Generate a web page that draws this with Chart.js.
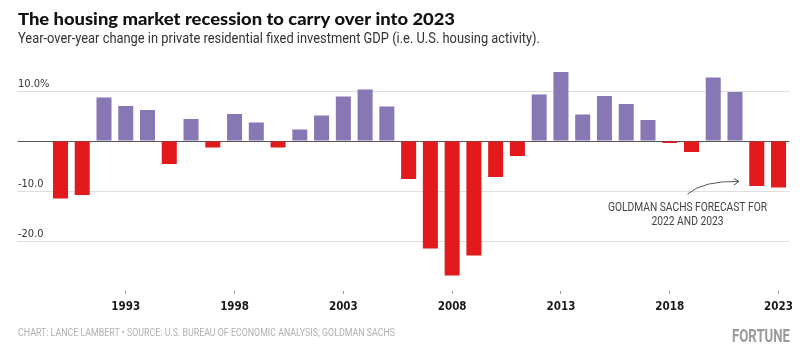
<!DOCTYPE html>
<html>
<head>
<meta charset="utf-8">
<script src="https://cdn.jsdelivr.net/npm/chart.js@4.4.1/dist/chart.umd.min.js"></script>
<style>
  html, body { margin: 0; padding: 0; background: #fff; }
  #chart { display: block; }
</style>
</head>
<body>
<canvas id="chart" width="800" height="350"></canvas>
<script>
// Year-over-year change in private residential fixed investment (%)
const years = ['1990', '1991', '1992', '1993', '1994', '1995', '1996', '1997', '1998', '1999',
               '2000', '2001', '2002', '2003', '2004', '2005', '2006', '2007', '2008', '2009',
               '2010', '2011', '2012', '2013', '2014', '2015', '2016', '2017', '2018', '2019',
               '2020', '2021', '2022', '2023'];
const changes = [-11.5, -10.8, 8.7, 7.0, 6.2, -4.6, 4.4, -1.3, 5.4, 3.7,
                 -1.3, 2.3, 5.1, 8.9, 10.3, 6.9, -7.6, -21.5, -26.9, -22.9,
                 -7.2, -3.0, 9.3, 13.8, 5.3, 9.0, 7.4, 4.2, -0.4, -2.2,
                 12.7, 9.8, -9.0, -9.3];
const xTickYears = ['1993', '1998', '2003', '2008', '2013', '2018', '2023'];
const yTicks = [-20, -10, 0, 10];
const yTickLabels = ['-20.0', '-10.0', '', '10.0%'];

const PURPLE = '#8777b4';
const RED = '#e21a1c';
const NARROW = "'DejaVu Sans Condensed', sans-serif";

// draw text squeezed horizontally to a given width (the original uses a condensed face)
function squeezed(ctx, text, x, y, width, align) {
    const w = ctx.measureText(text).width;
    const k = width / w;
    ctx.save();
    ctx.textAlign = 'left';
    let left = x;
    if (align === 'center') left = x - width / 2;
    if (align === 'right') left = x - width;
    ctx.translate(left, y);
    ctx.scale(k, 1);
    ctx.fillText(text, 0, 0);
    ctx.restore();
}

// titles, footer, forecast note
const textPlugin = {
    id: 'textPlugin',
    afterDraw(chart) {
        const ctx = chart.ctx;
        const x = chart.scales.x;
        const y = chart.scales.y;
        ctx.save();
        ctx.textBaseline = 'alphabetic';

        ctx.fillStyle = '#111';
        ctx.font = "900 17px Lato, 'DejaVu Sans', sans-serif";
        squeezed(ctx, 'The housing market recession to carry over into 2023', 18, 25, 437);

        ctx.fillStyle = '#333';
        ctx.font = '14px Roboto, sans-serif';
        squeezed(ctx, 'Year-over-year change in private residential fixed investment GDP (i.e. U.S. housing activity).', 18, 43, 522);

        ctx.fillStyle = '#b0b0b0';
        ctx.font = '10.5px Roboto, sans-serif';
        squeezed(ctx, 'CHART: LANCE LAMBERT \u2022 SOURCE: U.S. BUREAU OF ECONOMIC ANALYSIS; GOLDMAN SACHS', 18, 336, 377);

        ctx.fillStyle = '#9a9a9a';
        ctx.font = 'bold 19px Roboto, sans-serif';
        squeezed(ctx, 'FORTUNE', 790, 342, 58, 'right');

        // forecast note
        const cx = x.getPixelForValue(29) - 4;
        ctx.fillStyle = '#444';
        ctx.font = '12px Roboto, sans-serif';
        squeezed(ctx, 'GOLDMAN SACHS FORECAST FOR', cx, y.getPixelForValue(-13.9), 159, 'center');
        squeezed(ctx, '2022 AND 2023', cx, y.getPixelForValue(-16.8), 72, 'center');

        const sx = cx, sy = y.getPixelForValue(-10.6);
        const ex = x.getPixelForValue(31) + 4, ey = y.getPixelForValue(-8.1);
        ctx.strokeStyle = '#555';
        ctx.lineWidth = 1;
        ctx.beginPath();
        ctx.moveTo(sx, sy);
        ctx.quadraticCurveTo(sx + 16, ey - 1, ex, ey);
        ctx.stroke();
        ctx.beginPath();
        ctx.moveTo(ex - 5, ey - 3);
        ctx.lineTo(ex, ey);
        ctx.lineTo(ex - 5, ey + 3.5);
        ctx.stroke();
        ctx.restore();
    }
};

const ctx = document.getElementById('chart').getContext('2d');
const chart = new Chart(ctx, {
    type: 'bar',
    data: {
        labels: years,
        datasets: [{
            data: changes,
            backgroundColor: changes.map(v => v < 0 ? RED : PURPLE),
            borderWidth: 0,
            barPercentage: 0.69,
            categoryPercentage: 1.0
        }]
    },
    options: {
        responsive: false,
        animation: false,
        devicePixelRatio: 1,
        layout: {
            padding: { left: 18, right: 10.6, top: 61, bottom: 35 }
        },
        plugins: {
            legend: { display: false },
            tooltip: { enabled: false }
        },
        scales: {
            x: {
                border: { display: false },
                grid: {
                    offset: false,
                    drawOnChartArea: false,
                    drawTicks: true,
                    tickLength: 3,
                    color: c => xTickYears.includes(years[c.index]) ? '#999' : 'rgba(0,0,0,0)'
                },
                ticks: {
                    autoSkip: false,
                    maxRotation: 0,
                    padding: 6,
                    color: '#1a1a1a',
                    font: { family: NARROW, size: 11.5, weight: 'bold' },
                    callback: (v, i) => xTickYears.includes(years[i]) ? years[i] : ''
                },
                afterFit: s => { s.height = 24; }
            },
            y: {
                min: -30,
                max: 16,
                border: { display: false },
                grid: {
                    drawTicks: true,
                    tickLength: 32,
                    color: c => c.tick && c.tick.value === 0 ? '#555' : '#dedede'
                },
                afterBuildTicks: s => { s.ticks = yTicks.map(v => ({ value: v })); },
                ticks: {
                    crossAlign: 'far',
                    labelOffset: -7,
                    color: '#333',
                    font: { family: NARROW, size: 11 },
                    callback: v => yTickLabels[yTicks.indexOf(v)]
                },
                afterFit: s => { s.width = 31.6; }
            }
        }
    },
    plugins: [textPlugin]
});
</script>
</body>
</html>
